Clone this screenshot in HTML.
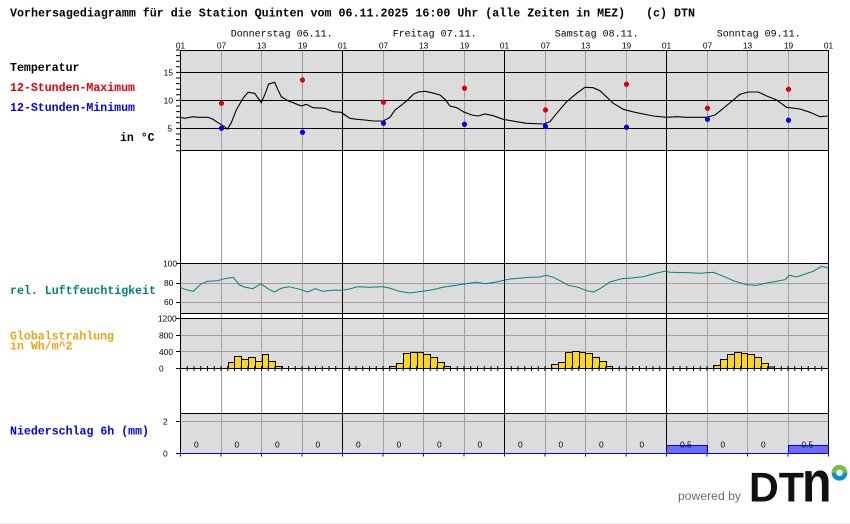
<!DOCTYPE html>
<html><head><meta charset="utf-8"><style>
html,body{margin:0;padding:0;background:#fff;width:850px;height:524px;overflow:hidden}
svg{display:block}
.mono{font-family:"Liberation Mono",monospace}
.b{font-weight:bold}
.t{font-family:"Liberation Sans",sans-serif;font-size:8.4px;fill:#000}
</style></head><body>
<svg width="850" height="524" viewBox="0 0 850 524" xmlns="http://www.w3.org/2000/svg">
<defs>
<path id="mk" d="M-2.5,-1.5h5v3h-5zM-1.5,-2.5h3v5h-3z"/>
</defs>
<rect x="0" y="0" width="850" height="524" fill="#fff"/>

<!-- header -->
<text x="10" y="16.5" class="mono b" font-size="11.7" textLength="685" lengthAdjust="spacingAndGlyphs" style="white-space:pre" xml:space="preserve">Vorhersagediagramm für die Station Quinten vom 06.11.2025 16:00 Uhr (alle Zeiten in MEZ)   (c) DTN</text>

<!-- day labels -->
<g class="mono" font-size="10.5" fill="#000">
<text x="230.7" y="36.5" textLength="102" lengthAdjust="spacingAndGlyphs">Donnerstag 06.11.</text>
<text x="392.7" y="36.5" textLength="84" lengthAdjust="spacingAndGlyphs">Freitag 07.11.</text>
<text x="554.7" y="36.5" textLength="84" lengthAdjust="spacingAndGlyphs">Samstag 08.11.</text>
<text x="716.7" y="36.5" textLength="84" lengthAdjust="spacingAndGlyphs">Sonntag 09.11.</text>
</g>

<!-- hour labels -->
<g class="t" text-anchor="middle">
<text x="180.5" y="48.5">01</text><text x="221.5" y="48.5">07</text><text x="261.5" y="48.5">13</text><text x="302.5" y="48.5">19</text>
<text x="342.5" y="48.5">01</text><text x="383.5" y="48.5">07</text><text x="423.5" y="48.5">13</text><text x="464.5" y="48.5">19</text>
<text x="504.5" y="48.5">01</text><text x="545.5" y="48.5">07</text><text x="585.5" y="48.5">13</text><text x="626.5" y="48.5">19</text>
<text x="666.5" y="48.5">01</text><text x="707.5" y="48.5">07</text><text x="747.5" y="48.5">13</text><text x="788.5" y="48.5">19</text>
<text x="828.5" y="48.5">01</text>
</g>

<!-- left labels -->
<g class="mono b" font-size="11.7">
<text x="10" y="71" fill="#000" textLength="69.5" lengthAdjust="spacingAndGlyphs">Temperatur</text>
<text x="10" y="91" fill="#e00000" textLength="125" lengthAdjust="spacingAndGlyphs">12-Stunden-Maximum</text>
<text x="10" y="111" fill="#0000ee" textLength="125" lengthAdjust="spacingAndGlyphs">12-Stunden-Minimum</text>
<text x="120" y="141" fill="#000" textLength="34.5" lengthAdjust="spacingAndGlyphs">in °C</text>
<text x="10" y="294" fill="#008080" textLength="146" lengthAdjust="spacingAndGlyphs">rel. Luftfeuchtigkeit</text>
<text x="10" y="339.3" fill="#e8a317" textLength="104" lengthAdjust="spacingAndGlyphs">Globalstrahlung</text>
<text x="10" y="349.3" fill="#e8a317" textLength="62.5" lengthAdjust="spacingAndGlyphs">in Wh/m^2</text>
<text x="10" y="434.3" fill="#0000ee" textLength="139" lengthAdjust="spacingAndGlyphs">Niederschlag 6h (mm)</text>
</g>

<!-- panel backgrounds -->
<rect x="180" y="50" width="648" height="100" fill="#dcdcdc"/>
<rect x="180" y="263" width="648" height="50" fill="#dcdcdc"/>
<rect x="180" y="318" width="648" height="50" fill="#dcdcdc"/>
<rect x="180" y="413" width="648" height="40" fill="#dcdcdc"/>

<!-- gray horizontal gridlines -->
<g stroke="#a0a0a0" stroke-width="1">
<line x1="180" y1="283.5" x2="828" y2="283.5"/>
<line x1="180" y1="302.5" x2="828" y2="302.5"/>
<line x1="180" y1="335.5" x2="828" y2="335.5"/>
<line x1="180" y1="351.5" x2="828" y2="351.5"/>
<line x1="180" y1="421.5" x2="828" y2="421.5"/>
</g>

<!-- gray vertical gridlines -->
<g stroke="#a0a0a0" stroke-width="1">
<line x1="221.5" y1="50" x2="221.5" y2="453"/><line x1="261.5" y1="50" x2="261.5" y2="453"/><line x1="302.5" y1="50" x2="302.5" y2="453"/>
<line x1="383.5" y1="50" x2="383.5" y2="453"/><line x1="423.5" y1="50" x2="423.5" y2="453"/><line x1="464.5" y1="50" x2="464.5" y2="453"/>
<line x1="545.5" y1="50" x2="545.5" y2="453"/><line x1="585.5" y1="50" x2="585.5" y2="453"/><line x1="626.5" y1="50" x2="626.5" y2="453"/>
<line x1="707.5" y1="50" x2="707.5" y2="453"/><line x1="747.5" y1="50" x2="747.5" y2="453"/><line x1="788.5" y1="50" x2="788.5" y2="453"/>
</g>

<!-- black horizontal lines -->
<g stroke="#000" stroke-width="1">
<line x1="180" y1="50.5" x2="829" y2="50.5"/>
<line x1="180" y1="72.5" x2="829" y2="72.5"/>
<line x1="180" y1="100.5" x2="829" y2="100.5"/>
<line x1="180" y1="128.5" x2="829" y2="128.5"/>
<line x1="180" y1="150.5" x2="829" y2="150.5"/>
<line x1="180" y1="263.5" x2="829" y2="263.5"/>
<line x1="180" y1="313.5" x2="829" y2="313.5"/>
<line x1="180" y1="318.5" x2="829" y2="318.5"/>
<line x1="180" y1="413.5" x2="829" y2="413.5"/>
</g>

<!-- radiation bars -->
<g fill="#f9d71c" stroke="#000" stroke-width="1">
<rect x="228.5" y="362.5" width="6" height="6"/><rect x="234.5" y="356.5" width="7" height="12"/><rect x="241.5" y="359.5" width="7" height="9"/><rect x="248.5" y="357.5" width="7" height="11"/><rect x="255.5" y="361.5" width="7" height="7"/><rect x="262.5" y="354.5" width="6" height="14"/><rect x="268.5" y="361.5" width="7" height="7"/><rect x="275.5" y="366.5" width="7" height="2"/>
<rect x="389.5" y="366.5" width="7" height="2"/><rect x="396.5" y="363.5" width="7" height="5"/><rect x="403.5" y="353.5" width="7" height="15"/><rect x="410.5" y="352.5" width="7" height="16"/><rect x="417.5" y="352.5" width="6" height="16"/><rect x="423.5" y="354.5" width="7" height="14"/><rect x="430.5" y="357.5" width="7" height="11"/><rect x="437.5" y="362.5" width="7" height="6"/><rect x="444.5" y="366.5" width="6" height="2"/>
<rect x="551.5" y="364.5" width="7" height="4"/><rect x="558.5" y="362.5" width="7" height="6"/><rect x="565.5" y="352.5" width="7" height="16"/><rect x="572.5" y="351.5" width="7" height="17"/><rect x="579.5" y="352.5" width="6" height="16"/><rect x="585.5" y="353.5" width="7" height="15"/><rect x="592.5" y="357.5" width="7" height="11"/><rect x="599.5" y="361.5" width="7" height="7"/><rect x="606.5" y="366.5" width="6" height="2"/>
<rect x="713.5" y="365.5" width="7" height="3"/><rect x="720.5" y="359.5" width="7" height="9"/><rect x="727.5" y="354.5" width="7" height="14"/><rect x="734.5" y="352.5" width="7" height="16"/><rect x="741.5" y="353.5" width="6" height="15"/><rect x="747.5" y="354.5" width="7" height="14"/><rect x="754.5" y="357.5" width="7" height="11"/><rect x="761.5" y="363.5" width="7" height="5"/><rect x="768.5" y="367" width="6" height="1.5"/>
</g>

<!-- radiation bottom axis with hourly ticks -->
<line x1="180" y1="368.5" x2="829" y2="368.5" stroke="#000" stroke-width="1"/>
<line x1="180" y1="368.5" x2="829" y2="368.5" stroke="#000" stroke-width="5" stroke-dasharray="1 5.75"/>

<!-- precipitation bars -->
<g fill="#6b6bff" stroke="#0000ff" stroke-width="1">
<rect x="666.5" y="445.5" width="41" height="8"/>
<rect x="788.5" y="445.5" width="40" height="8"/>
</g>
<line x1="180" y1="453.5" x2="829" y2="453.5" stroke="#0000ff" stroke-width="1"/>
<line x1="180" y1="455" x2="829" y2="455" stroke="#0000ff" stroke-width="3" stroke-dasharray="1 39.5"/>

<!-- black vertical day lines & axes -->
<g stroke="#000" stroke-width="1">
<line x1="180.5" y1="50" x2="180.5" y2="454"/>
<line x1="342.5" y1="50" x2="342.5" y2="454"/>
<line x1="504.5" y1="50" x2="504.5" y2="454"/>
<line x1="666.5" y1="50" x2="666.5" y2="454"/>
<line x1="828.5" y1="50" x2="828.5" y2="454"/>
</g>

<!-- left axis ticks -->
<line x1="178" y1="49.5" x2="178" y2="152" stroke="#000" stroke-width="4" stroke-dasharray="1 4.6"/>
<g stroke="#000" stroke-width="1">
<line x1="176" y1="263.5" x2="180" y2="263.5"/><line x1="176" y1="283.5" x2="180" y2="283.5"/><line x1="176" y1="302.5" x2="180" y2="302.5"/>
<line x1="176" y1="318.5" x2="180" y2="318.5"/><line x1="176" y1="335.5" x2="180" y2="335.5"/><line x1="176" y1="351.5" x2="180" y2="351.5"/><line x1="176" y1="368.5" x2="180" y2="368.5"/>
<line x1="176" y1="421.5" x2="180" y2="421.5"/><line x1="176" y1="453.5" x2="180" y2="453.5"/>
</g>

<!-- axis labels -->
<g class="t">
<text x="173" y="75.5" text-anchor="end">15</text>
<text x="173" y="103.5" text-anchor="end">10</text>
<text x="172" y="131.5" text-anchor="end">5</text>
<text x="163" y="266.5">100</text>
<text x="164" y="286">80</text>
<text x="164" y="305">60</text>
<text x="158" y="321.3">1200</text>
<text x="159" y="338.3">800</text>
<text x="159" y="355">400</text>
<text x="159" y="371.3">0</text>
<text x="163" y="424.5">2</text>
<text x="163" y="456.5">0</text>
</g>

<!-- precipitation labels -->
<g class="t">
<text x="194" y="447.5">0</text><text x="234.5" y="447.5">0</text><text x="275" y="447.5">0</text><text x="315.5" y="447.5">0</text>
<text x="356" y="447.5">0</text><text x="396.5" y="447.5">0</text><text x="437" y="447.5">0</text><text x="477.5" y="447.5">0</text>
<text x="518" y="447.5">0</text><text x="558.5" y="447.5">0</text><text x="599" y="447.5">0</text><text x="639.5" y="447.5">0</text>
<text x="680" y="447.5">0.5</text><text x="720.5" y="447.5">0</text><text x="761" y="447.5">0</text><text x="801.5" y="447.5">0.5</text>
</g>

<!-- humidity line -->
<polyline fill="none" stroke="#008080" stroke-width="1" points="180,287.3 186,289.7 193.3,291.3 201,284 207.7,281.3 217.7,280.7 224.3,278.7 233.3,277.3 239.3,284.7 244.3,287 252.7,288.7 261,283.7 267.7,288.7 274.3,292 282,288 289.3,286.7 301,289.7 307.7,292 315.3,288.7 322.7,291.3 332.7,290.3 342.7,290.3 349.3,289 357.7,286.7 369.3,287.3 382.7,286.7 389.3,288 399.3,291.3 409.3,293 422.7,291.3 432.7,289.7 442.7,287.3 452.7,285.7 466,283.7 476,282.3 486,283.7 496,282 505.3,280 510,279 530,277.3 540,277 546,275.3 553.3,277.3 560,280.7 568.3,285.3 578.3,287.3 586.7,290.7 593.3,292 600,288.7 610,282 621.7,278.7 631.7,278 643.3,276.7 656.7,273 665,271.3 670,272.3 690,272.7 700,273.3 713.3,272.3 723.3,276.3 733.3,280.7 746.7,284.7 756.7,285.3 766.7,283 776.7,281.3 785,279.7 789.3,275.3 796.7,277 805,274 813.3,271.3 821.7,266.3 828,268"/>

<!-- temperature line -->
<polyline fill="none" stroke="#000" stroke-width="1.1" points="180,117.3 184.7,118.3 193,116.7 198,117.3 208,117.3 213,119.3 218,122.7 224.7,126.7 227.3,129.3 231.3,122.7 236.3,110 243,98.3 248,92.3 254.7,93.3 261.3,102.7 265.3,93.3 268.7,84 274.7,82.3 278,90 281.3,96.7 288,100.7 294.7,103.3 301.3,106 306.3,104.3 313,107.7 324.7,108.3 333,111.7 341.3,112.3 346.3,116 350,118.3 356.7,119.3 365,120 373.3,121 383.3,121 390,117.3 395,110 401.7,105 408.3,99.3 413.3,94.3 418.3,92 425,91.3 431.7,92.7 440,95 445,99.3 450,106 456.7,107.7 463.3,111.7 471.7,115 478.3,116 485,114 493.3,115.7 503.3,119.3 516.7,121.7 526.7,123.3 543.3,124 550,121.7 556.7,113.3 566.7,101.7 576.7,93.3 585,87.3 593.3,87.7 600,90.7 613.3,103.3 623.3,109.3 636.7,112.7 653.3,116 666.7,117.3 676.7,116.7 686.7,117.3 706.7,117.3 715,115 723.3,108.3 733.3,100 740,94.3 748.3,92 758.3,92 766.7,96 776.7,100 786.7,107.3 800,109 810,112.3 820,116.7 828,116"/>

<!-- markers -->
<g fill="#e00000">
<use href="#mk" x="221.5" y="103.3"/><use href="#mk" x="302.5" y="80"/><use href="#mk" x="383.5" y="102.3"/><use href="#mk" x="464.5" y="88.3"/>
<use href="#mk" x="545.5" y="110"/><use href="#mk" x="626.5" y="84.3"/><use href="#mk" x="707.5" y="108.3"/><use href="#mk" x="788.5" y="89.3"/>
</g>
<g fill="#0000ee">
<use href="#mk" x="221.5" y="128.3"/><use href="#mk" x="302.5" y="132.3"/><use href="#mk" x="383.5" y="123.3"/><use href="#mk" x="464.5" y="124.3"/>
<use href="#mk" x="545.5" y="126.3"/><use href="#mk" x="626.5" y="127.3"/><use href="#mk" x="707.5" y="119.3"/><use href="#mk" x="788.5" y="120.3"/>
</g>

<!-- logo -->
<text x="678" y="500" font-family="Liberation Sans, sans-serif" font-size="12" fill="#6d6d6d" textLength="63" lengthAdjust="spacingAndGlyphs">powered by</text>
<text x="749" y="501.7" font-family="Liberation Sans, sans-serif" font-weight="bold" font-size="42" fill="#111" textLength="55" lengthAdjust="spacingAndGlyphs">DT</text>
<text transform="translate(805,501.7) scale(1.15,1.38)" x="-2.6" y="0" font-family="Liberation Sans, sans-serif" font-weight="bold" font-size="42" fill="#111">n</text>
<circle cx="839.5" cy="472.8" r="5.6" fill="none" stroke="#0094c9" stroke-width="4.5"/>
<path d="M833.9,472.8 A5.6,5.6 0 0 1 845.1,472.8" fill="none" stroke="#7ac143" stroke-width="4.5"/>

<line x1="0" y1="523.5" x2="850" y2="523.5" stroke="#ececec" stroke-width="1"/>
</svg>
</body></html>
